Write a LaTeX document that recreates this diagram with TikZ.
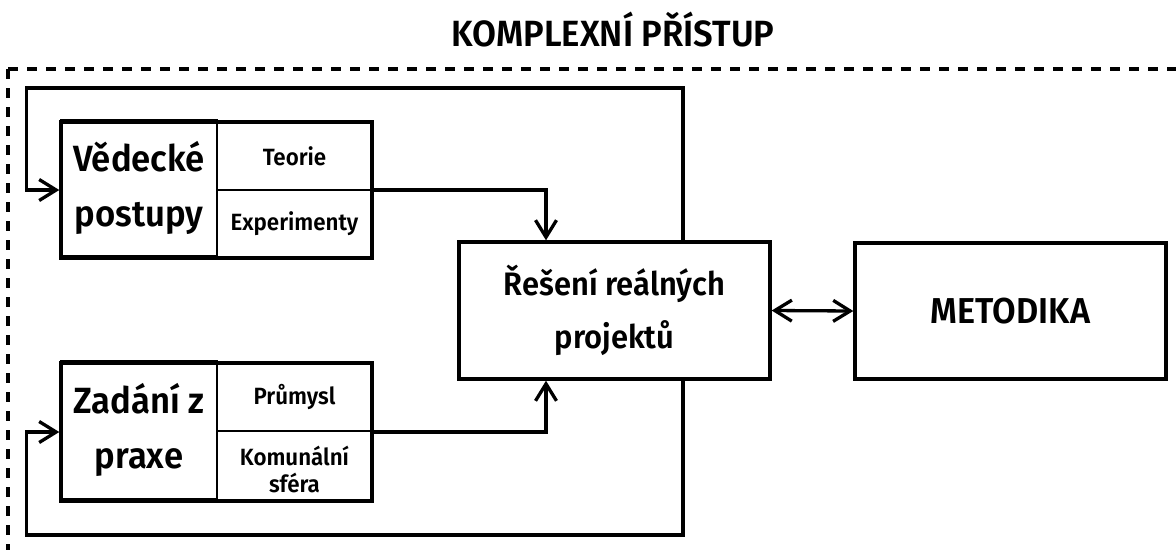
\documentclass[tikz,border=0pt]{standalone}
\usepackage{fontspec}
\setmainfont{Fira Sans}[FakeStretch=0.95, BoldFont={Fira Sans SemiBold}]
\usetikzlibrary{arrows.meta}

\tikzset{
  outerbox/.style={draw, line width=3.4pt, inner sep=0pt, minimum width=#1},
  cell/.style={draw, line width=2.2pt, inner sep=0pt, align=center},
  bigtext/.style={font=\fontsize{36.5}{55}\selectfont\bfseries, align=center},
  midtext/.style={font=\fontsize{32.5}{53}\selectfont\bfseries, align=center},
  smalltext/.style={font=\fontsize{23.5}{27}\selectfont\bfseries, align=center},
  conn/.style={line width=3.3pt, line join=miter},
  barb/.tip={Straight Barb[length=17pt,width=21pt,line width=3.3pt]},
  tip/.style={-barb},
  frame/.style={line width=3.2pt, dash pattern=on 10pt off 9pt},
}

\begin{document}
\begin{tikzpicture}[x=1pt, y=-1pt]
  \useasboundingbox (0,0) rectangle (1176,550);
  \fill[white] (0,0) rectangle (1176,550);

  % heading and the dashed frame under it
  \node[font=\fontsize{36.5}{40}\selectfont\bfseries, anchor=base] (title) at (613,46.7) {KOMPLEXNÍ PŘÍSTUP};
  \coordinate (fc) at (8,69);
  \draw[frame] (fc) -- (1176,69);
  \draw[frame] (fc) -- (8,550);

  % upper source block: scientific procedures
  \node[cell, minimum width=156pt, minimum height=136pt, bigtext, yshift=2pt] (vedL) at (139,190) {Vědecké\\postupy};
  \node[cell, minimum width=155pt, minimum height=68pt, smalltext] (vedT) at (294.5,156) {Teorie};
  \node[cell, minimum width=155pt, minimum height=68pt, smalltext] (vedE) at (294.5,224) {Experimenty};
  \node[outerbox=311pt, minimum height=136pt] (ved) at (216.5,190) {};

  % lower source block: assignments from practice
  \node[cell, minimum width=156pt, minimum height=138pt, bigtext, yshift=2pt] (zadL) at (139,432) {Zadání z\\praxe};
  \node[cell, minimum width=155pt, minimum height=68pt, smalltext] (zadT) at (294.5,397) {Průmysl};
  \node[cell, minimum width=155pt, minimum height=70pt] (zadB) at (294.5,466) {};
  \node[smalltext] (zadBt) at (294.5,469) {Komunální\\sféra};
  \node[outerbox=311pt, minimum height=138pt] (zad) at (216.5,432) {};

  % central project block and the methodology block
  \node[outerbox=311pt, minimum height=137pt, midtext] (rs) at (614.5,310.5) {Řešení reálných\\projektů};
  \node[outerbox=311pt, minimum height=136pt, font=\fontsize{36}{40}\selectfont\bfseries] (met) at (1010.5,311) {METODIKA};

  % feedback loops
  \coordinate (loopTL) at (26.5,88);
  \coordinate (loopBL) at (26.5,535);
  \draw[conn, tip] ([xshift=68.5pt]rs.north) |- (loopTL) |- (ved.west);
  \draw[conn, tip] ([xshift=68.5pt]rs.south) |- (loopBL) |- (zad.west);

  % inputs into the project block
  \draw[conn, tip] (ved.east) -| ([xshift=-68.5pt]rs.north);
  \draw[conn, tip] (zad.east) -| ([xshift=-68.5pt]rs.south);

  % exchange with the methodology
  \draw[conn, barb-barb] (rs.east) -- (met.west);
\end{tikzpicture}
\end{document}
